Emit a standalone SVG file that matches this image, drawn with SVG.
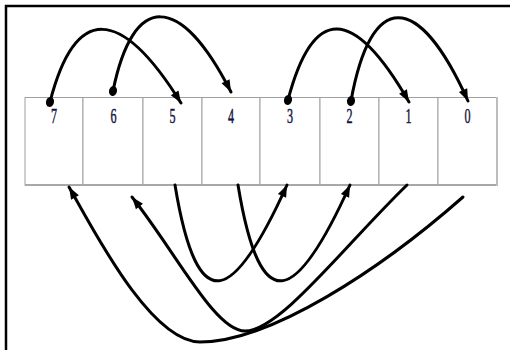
<svg xmlns="http://www.w3.org/2000/svg" width="510" height="350" viewBox="0 0 510 350">
<style>
.cell{fill:#fff;stroke:#a0a0a0;stroke-width:1}
.lbl{font-family:"Liberation Serif","Times New Roman",serif;font-size:22px;fill:#14143c;stroke:#14143c;stroke-width:0.5;text-anchor:middle}
.arc{fill:none;stroke:#000;stroke-width:3;stroke-linecap:round}
</style>
<defs>
<marker id="arr" markerUnits="userSpaceOnUse" markerWidth="14" markerHeight="10" refX="12" refY="4.5" orient="auto" overflow="visible">
<path d="M0,0 L12,4.5 L0,9 z" fill="#000"/>
</marker>
<marker id="dot" markerUnits="userSpaceOnUse" markerWidth="12" markerHeight="10" refX="0" refY="0" orient="auto" overflow="visible">
<ellipse cx="0" cy="0" rx="5" ry="4" fill="#000"/>
</marker>
</defs>
<rect width="510" height="350" fill="#fff"/>
<g id="frame">
<path d="M6,350 V6 H510" fill="none" stroke="#000" stroke-width="2.5"/>
</g>
<g id="cell7"><rect class="cell" x="25" y="97.5" width="58" height="87.5"/><text class="lbl" transform="translate(54,123) scale(0.55,1)">7</text></g>
<g id="cell6"><rect class="cell" x="83" y="97.5" width="60" height="87.5"/><text class="lbl" transform="translate(113.5,123) scale(0.55,1)">6</text></g>
<g id="cell5"><rect class="cell" x="143" y="97.5" width="59" height="87.5"/><text class="lbl" transform="translate(172.5,123) scale(0.55,1)">5</text></g>
<g id="cell4"><rect class="cell" x="202" y="97.5" width="58" height="87.5"/><text class="lbl" transform="translate(231,123) scale(0.55,1)">4</text></g>
<g id="cell3"><rect class="cell" x="260" y="97.5" width="60" height="87.5"/><text class="lbl" transform="translate(290,123) scale(0.55,1)">3</text></g>
<g id="cell2"><rect class="cell" x="320" y="97.5" width="59" height="87.5"/><text class="lbl" transform="translate(349.5,123) scale(0.55,1)">2</text></g>
<g id="cell1"><rect class="cell" x="379" y="97.5" width="59" height="87.5"/><text class="lbl" transform="translate(408.5,123) scale(0.55,1)">1</text></g>
<g id="cell0"><rect class="cell" x="438" y="97.5" width="59" height="87.5"/><text class="lbl" transform="translate(467.5,123) scale(0.55,1)">0</text></g>
<g id="edges">
<line x1="25" y1="185" x2="498" y2="185" stroke="#a8a8a8" stroke-width="2"/>
<line x1="497" y1="97" x2="497" y2="186" stroke="#bdbdbd" stroke-width="2"/>
</g>
<g id="connectors">
<path class="arc" d="M50,102 C75,5 120,5 181,103" marker-start="url(#dot)" marker-end="url(#arr)"/>
<path class="arc" d="M113,91 C133,-8 180,-8 231,92" marker-start="url(#dot)" marker-end="url(#arr)"/>
<path class="arc" d="M288,100 C313,5 353,5 409,102" marker-start="url(#dot)" marker-end="url(#arr)"/>
<path class="arc" d="M351,101 C371,-10 418,-10 468,101" marker-start="url(#dot)" marker-end="url(#arr)"/>
<path class="arc" d="M175,185 C198,325 235,300 287,185" marker-end="url(#arr)"/>
<path class="arc" d="M238,185 C261,325 298,300 350,185" marker-end="url(#arr)"/>
<path class="arc" d="M463,197 C380,270 270,342 200,342 C150,342 92,227 69,187" marker-end="url(#arr)"/>
<path class="arc" d="M407,185 C345,245 280,331 245,331 C215,331 177,254 132,197" marker-end="url(#arr)"/>
</g>
</svg>
